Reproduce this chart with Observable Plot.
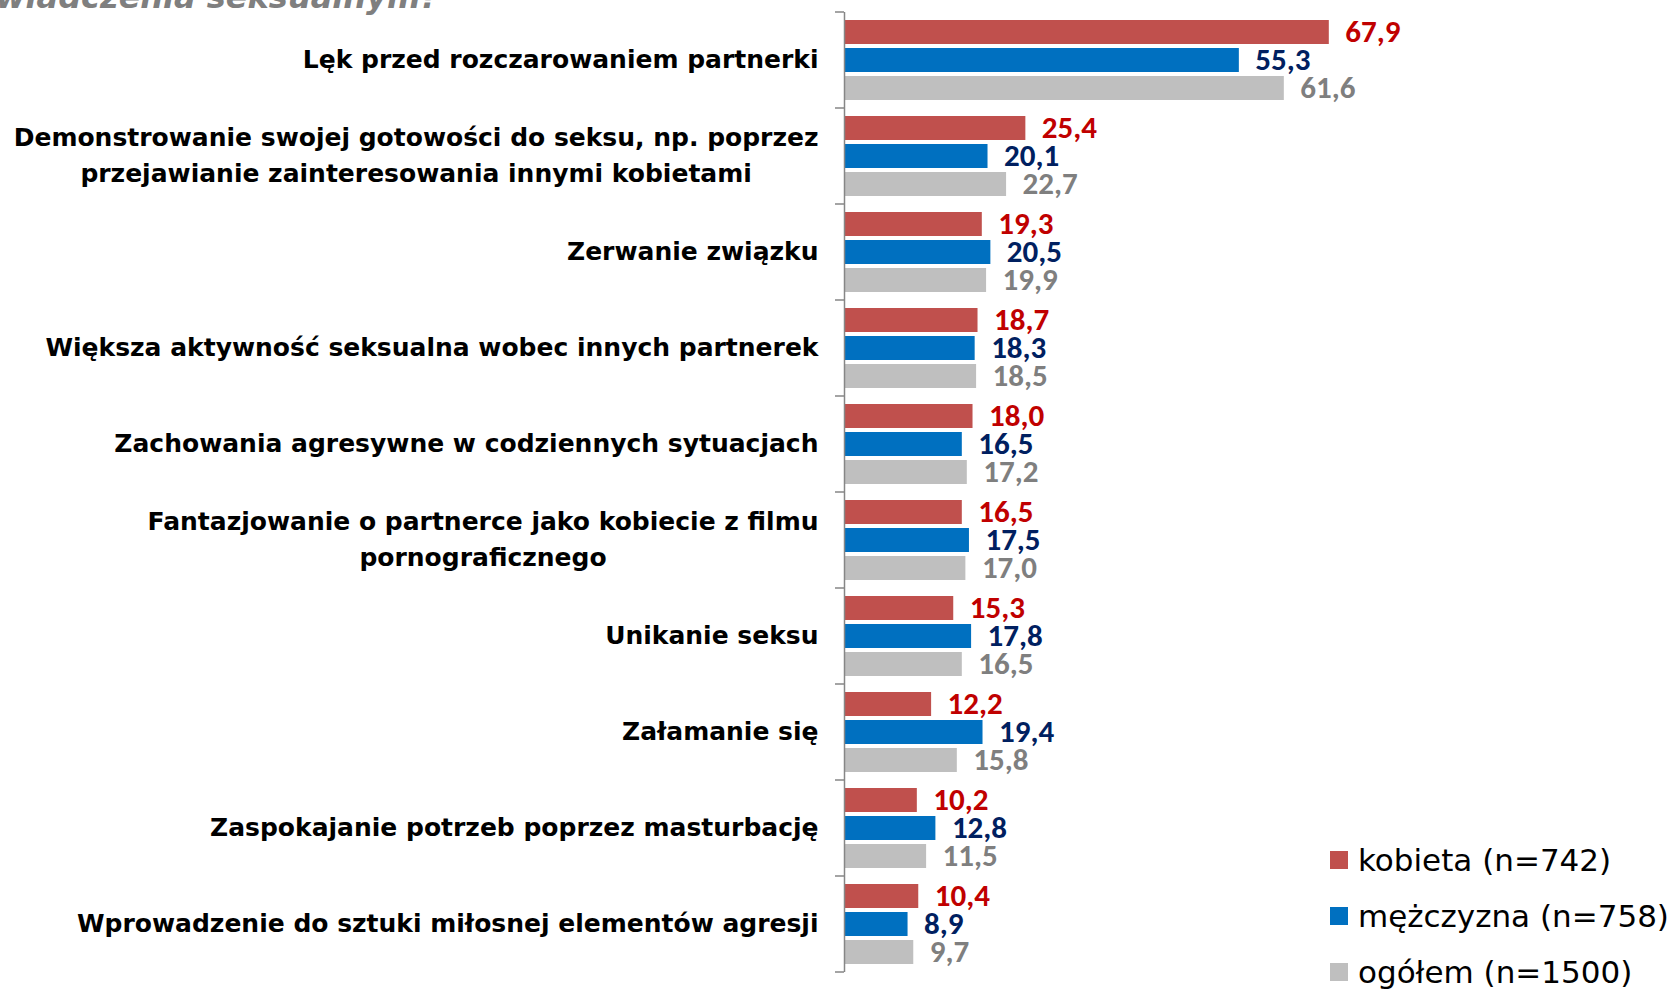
<!DOCTYPE html>
<html><head><meta charset="utf-8">
<script src="https://cdn.jsdelivr.net/npm/d3@7"></script>
<script src="https://cdn.jsdelivr.net/npm/@observablehq/plot@0.6"></script>
<style>
body{margin:0;background:#fff;}
#wrap{position:relative;width:1675px;height:991px;overflow:hidden;background:#fff;}
#title{position:absolute;left:-4px;top:-19px;font:italic bold 32px/32px "DejaVu Sans",sans-serif;color:#7f7f7f;white-space:nowrap;}
#chart{position:absolute;left:0;top:0;}
#legend{position:absolute;left:1330px;top:832px;font:31px/56px "DejaVu Sans",sans-serif;color:#000;}
#legend .row{display:flex;align-items:center;height:56px;white-space:nowrap;}
#legend .sw{width:18px;height:18px;margin-right:10px;flex:none;}
</style></head><body>
<div id="wrap">
<div id="title">wiadczenia seksualnym?</div>
<div id="chart"></div>
<div id="legend"></div>
</div>
<script>
const categories = [
  "Lęk przed rozczarowaniem partnerki",
  "Demonstrowanie swojej gotowości do seksu, np. poprzez\nprzejawianie zainteresowania innymi kobietami",
  "Zerwanie związku",
  "Większa aktywność seksualna wobec innych partnerek",
  "Zachowania agresywne w codziennych sytuacjach",
  "Fantazjowanie o partnerce jako kobiecie z filmu\npornograficznego",
  "Unikanie seksu",
  "Załamanie się",
  "Zaspokajanie potrzeb poprzez masturbację",
  "Wprowadzenie do sztuki miłosnej elementów agresji"
];
const series = ["kobieta (n=742)", "mężczyzna (n=758)", "ogółem (n=1500)"];
const kobieta   = [67.9, 25.4, 19.3, 18.7, 18.0, 16.5, 15.3, 12.2, 10.2, 10.4];
const mezczyzna = [55.3, 20.1, 20.5, 18.3, 16.5, 17.5, 17.8, 19.4, 12.8, 8.9];
const ogolem    = [61.6, 22.7, 19.9, 18.5, 17.2, 17.0, 16.5, 15.8, 11.5, 9.7];
const barColors = ["#C0504D", "#0070C0", "#BFBFBF"];
const labelColors = ["#C00000", "#002060", "#7F7F7F"];

const valuesBySeries = [kobieta, mezczyzna, ogolem];
const rows = [];
categories.forEach((c, i) => {
  series.forEach((s, j) => rows.push({category: c, series: s, value: valuesBySeries[j][i]}));
});
const fmt = v => v.toFixed(1).replace(".", ",");
const valueFont = "Carlito, Lato, sans-serif";

const textMarks = series.map((s, j) => Plot.text(rows.filter(d => d.series === s), {
  fy: "category", y: "series", x: "value", text: d => fmt(d.value),
  fill: labelColors[j], textAnchor: "start", dx: 16,
  fontWeight: "bold", fontSize: 31, fontFamily: valueFont
}));

const plot = Plot.plot({
  width: 1675, height: 991,
  marginLeft: 844, marginRight: 117, marginTop: 10, marginBottom: 17,
  style: {background: "transparent"},
  x: {domain: [0, 100], axis: null},
  y: {domain: series, paddingInner: 0.13, paddingOuter: 0.27, axis: null},
  fy: {domain: categories, padding: 0, label: null},
  color: {domain: series, range: barColors},
  marks: [
    Plot.axisFy({anchor: "left", tickSize: 0, tickPadding: 26, label: null, dy: -4,
      fontSize: 25, fontWeight: "bold", fontFamily: "DejaVu Sans, sans-serif",
      fill: "#000", lineHeight: 1.45}),
    Plot.barX(rows, {fy: "category", y: "series", x: "value", fill: "series"}),
    ...textMarks,
    Plot.ruleX([0], {stroke: "#868686", strokeWidth: 1.5})
  ]
});
document.getElementById("chart").appendChild(plot);

// boundary ticks (Excel-style, between categories)
const fyS = plot.scale("fy");
const xS = plot.scale("x");
const x0 = xS.apply(0);
const bounds = categories.map(c => fyS.apply(c));
bounds.push(fyS.apply(categories[categories.length - 1]) + fyS.bandwidth);
d3.select(plot).append("g").attr("stroke", "#868686").attr("stroke-width", 1.5)
  .selectAll("line").data(bounds).join("line")
  .attr("x1", x0 - 9).attr("x2", x0).attr("y1", d => d).attr("y2", d => d);

// center multi-line category labels as a block
d3.select(plot).selectAll('g[aria-label="fy-axis tick label"] text').each(function() {
  const tspans = this.querySelectorAll("tspan");
  if (tspans.length > 1) {
    let w = 0;
    tspans.forEach(t => { w = Math.max(w, t.getComputedTextLength()); });
    this.setAttribute("text-anchor", "middle");
    tspans.forEach(t => t.setAttribute("x", -w / 2));
  }
});

// legend
const leg = d3.select("#legend");
series.forEach((s, j) => {
  const r = leg.append("div").attr("class", "row");
  r.append("div").attr("class", "sw").style("background", barColors[j]);
  r.append("span").text(s);
});
</script>
</body></html>
